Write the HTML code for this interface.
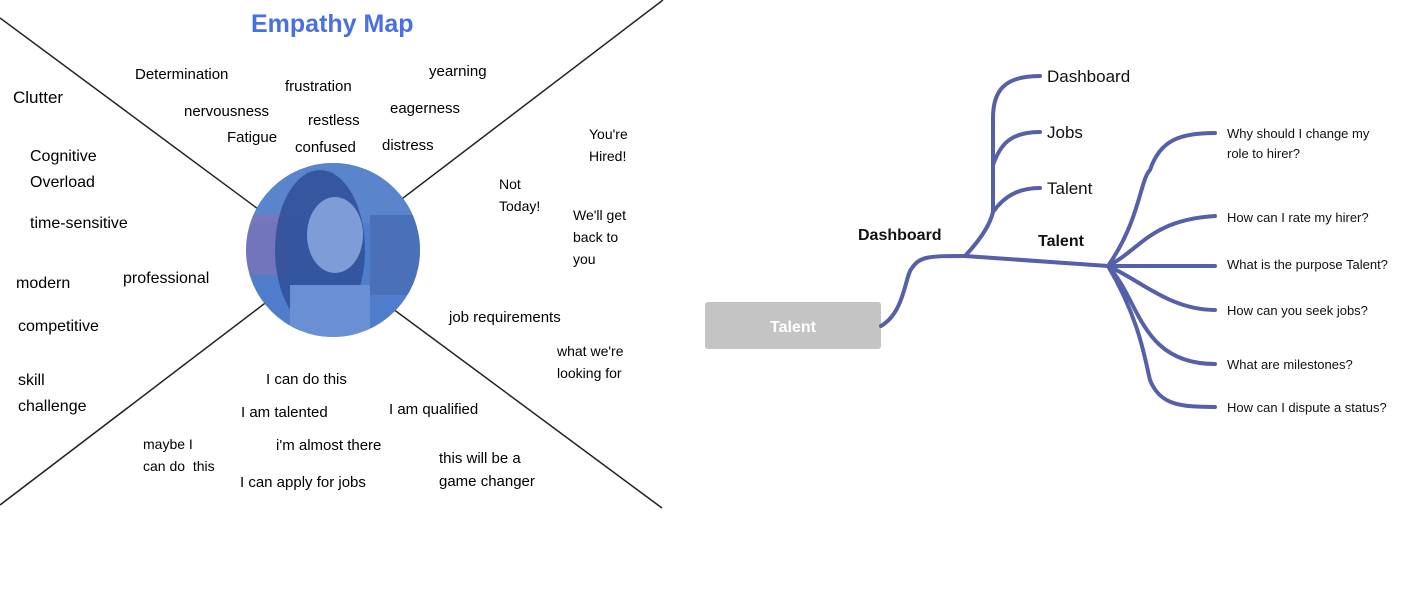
<!DOCTYPE html>
<html><head><meta charset="utf-8"><style>
body{margin:0;width:1404px;height:590px;background:#fff;overflow:hidden;position:relative;font-family:"Liberation Sans",sans-serif}
.h{position:absolute;font-family:"Liberation Sans",sans-serif;font-size:15px;color:#000;white-space:nowrap}
.m{position:absolute;font-size:17px;color:#111;white-space:nowrap}
.q{position:absolute;font-size:13px;color:#111;white-space:nowrap;line-height:20px}
</style></head><body>
<svg width="1404" height="590" style="position:absolute;left:0;top:0">
<line x1="0" y1="18" x2="662" y2="508" stroke="#222" stroke-width="1.5"/>
<line x1="0" y1="505" x2="663" y2="0" stroke="#222" stroke-width="1.5"/>
<defs><clipPath id="c"><circle cx="333" cy="250" r="87"/></clipPath></defs>
<circle cx="333" cy="250" r="87" fill="#4f7dcc"/>
<g clip-path="url(#c)">
<rect x="246" y="163" width="174" height="60" fill="#5a84cc"/>
<rect x="246" y="215" width="40" height="60" fill="#8a6fb0" opacity="0.6"/>
<rect x="370" y="215" width="50" height="80" fill="#4a70b8"/>
<ellipse cx="320" cy="250" rx="45" ry="80" fill="#2f4f98" opacity="0.85"/>
<ellipse cx="335" cy="235" rx="28" ry="38" fill="#7d9cd8"/>
<rect x="290" y="285" width="80" height="60" fill="#6a8fd4"/>
</g>
<rect x="705" y="302" width="176" height="47" rx="3" fill="#c4c4c4"/>
<g fill="none" stroke="#5560a8" stroke-width="4" stroke-linecap="round">
<path d="M881 326 C905 312 905 275 912 268 C920 256 930 256 965 256"/>
<path d="M965 256 C980 240 990 225 993 212 L993 118 C993 90 1005 76 1040 76"/>
<path d="M993 165 C1000 145 1010 132 1040 132"/>
<path d="M993 212 C1005 195 1020 188 1040 188"/>
<path d="M965 256 L1108 266"/>
<path d="M1108 266 C1140 220 1140 180 1150 170 C1160 140 1180 133 1215 133"/>
<path d="M1108 266 C1140 250 1150 220 1215 216"/>
<path d="M1108 266 L1215 266"/>
<path d="M1108 266 C1140 280 1170 310 1215 310"/>
<path d="M1108 266 C1140 300 1140 364 1215 364"/>
<path d="M1108 266 C1140 320 1145 360 1150 380 C1160 405 1180 407 1215 407"/>
</g>
</svg>
<div style="position:absolute;left:251px;top:10px;font-size:25px;font-weight:bold;color:#4a6fe0">Empathy Map</div>
<div class="h" style="left:135px;top:66px">Determination</div>
<div class="h" style="left:285px;top:78px">frustration</div>
<div class="h" style="left:429px;top:63px">yearning</div>
<div class="h" style="left:184px;top:103px">nervousness</div>
<div class="h" style="left:308px;top:112px">restless</div>
<div class="h" style="left:390px;top:100px">eagerness</div>
<div class="h" style="left:227px;top:129px">Fatigue</div>
<div class="h" style="left:295px;top:139px">confused</div>
<div class="h" style="left:382px;top:137px">distress</div>
<div class="h" style="left:13px;top:88px;font-size:17px">Clutter</div>
<div class="h" style="left:30px;top:144px;font-size:16px;line-height:26px">Cognitive<br>Overload</div>
<div class="h" style="left:30px;top:215px;font-size:16px">time-sensitive</div>
<div class="h" style="left:16px;top:275px;font-size:16px">modern</div>
<div class="h" style="left:123px;top:270px;font-size:16px">professional</div>
<div class="h" style="left:18px;top:318px;font-size:16px">competitive</div>
<div class="h" style="left:18px;top:368px;font-size:16px;line-height:26px">skill<br>challenge</div>
<div class="h" style="left:589px;top:123px;font-size:14px;line-height:22px">You're<br>Hired!</div>
<div class="h" style="left:499px;top:173px;font-size:14px;line-height:22px">Not<br>Today!</div>
<div class="h" style="left:573px;top:204px;font-size:14px;line-height:22px">We'll get<br>back to<br>you</div>
<div class="h" style="left:449px;top:309px">job requirements</div>
<div class="h" style="left:557px;top:340px;font-size:14px;line-height:22px">what we're<br>looking for</div>
<div class="h" style="left:266px;top:371px">I can do this</div>
<div class="h" style="left:241px;top:404px">I am talented</div>
<div class="h" style="left:389px;top:401px">I am qualified</div>
<div class="h" style="left:143px;top:433px;font-size:14px;line-height:22px">maybe I<br>can do&nbsp; this</div>
<div class="h" style="left:276px;top:437px">i'm almost there</div>
<div class="h" style="left:240px;top:474px">I can apply for jobs</div>
<div class="h" style="left:439px;top:447px;line-height:23px">this will be a<br>game changer</div>
<div style="position:absolute;left:705px;top:302px;width:176px;height:52px;line-height:52px;text-align:center;color:#fff;font-weight:bold;font-size:16px">Talent</div>
<div class="m" style="left:858px;top:227px;font-weight:bold;font-size:16px">Dashboard</div>
<div class="m" style="left:1038px;top:233px;font-weight:bold;font-size:16px">Talent</div>
<div class="m" style="left:1047px;top:67px">Dashboard</div>
<div class="m" style="left:1047px;top:123px">Jobs</div>
<div class="m" style="left:1047px;top:179px">Talent</div>
<div class="q" style="left:1227px;top:124px">Why should I change my<br>role to hirer?</div>
<div class="q" style="left:1227px;top:208px">How can I rate my hirer?</div>
<div class="q" style="left:1227px;top:255px">What is the purpose Talent?</div>
<div class="q" style="left:1227px;top:301px">How can you seek jobs?</div>
<div class="q" style="left:1227px;top:355px">What are milestones?</div>
<div class="q" style="left:1227px;top:398px">How can I dispute a status?</div>
</body></html>
